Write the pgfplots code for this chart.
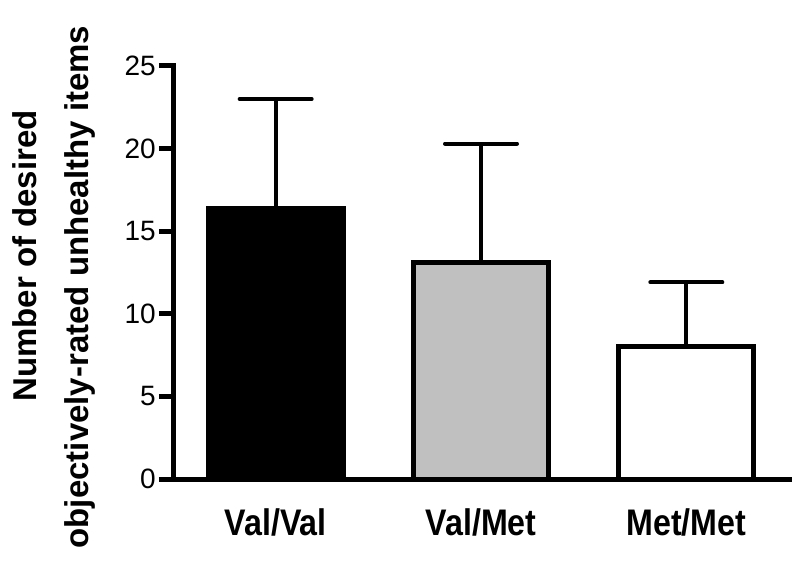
\documentclass[border=0pt]{standalone}
\usepackage{fontspec}
\setmainfont{Liberation Sans}
\newfontfamily\catfont[FakeStretch=0.87]{Liberation Sans}
\usepackage{pgfplots}
\pgfplotsset{compat=1.18}
\definecolor{midgray}{HTML}{C0C0C0}
\begin{document}
\begin{tikzpicture}
\useasboundingbox (0,0) rectangle (800pt,565pt);
\begin{axis}[
  at={(173pt,86pt)}, anchor=south west,
  scale only axis, width=616pt, height=413pt,
  xmin=-0.5, xmax=2.5, ymin=0, ymax=25,
  axis x line*=bottom, axis y line*=left,
  axis line style={line width=5pt, black, line cap=rect},
  xtick={0,1,2}, xticklabels={Val/Val,Val/Met,Met/Met},
  ytick={0,5,10,15,20,25},
  x tick style={draw=none},
  y tick style={line width=5pt, black},
  tick align=outside, major tick length=14pt,
  /pgf/number format/assume math mode=true,
  yticklabel style={font=\fontsize{28}{30}\selectfont, inner xsep=3pt},
  xticklabel style={font=\catfont\bfseries\fontsize{37}{40}\selectfont, anchor=base, yshift=-42pt},
  ybar, bar width=135pt, bar shift=0pt,
  error bars/y dir=plus, error bars/y explicit,
  error bars/error bar style={line width=4pt, black},
  error bars/error mark options={rotate=90, line width=4pt, mark size=36pt, black, line cap=round},
]
\addplot[fill=black, draw=black, line width=5pt, bar shift=0pt] coordinates {(0,16.4) +- (0,6.6)};
\addplot[fill=midgray, draw=black, line width=5pt, bar shift=0pt] coordinates {(1,13.1) +- (0,7.2)};
\addplot[fill=white, draw=black, line width=5pt, bar shift=0pt] coordinates {(2,8.0) +- (0,3.9)};
\end{axis}
\node[rotate=90, anchor=base, inner sep=0pt, font=\bfseries\fontsize{33}{36}\selectfont] at (36pt,309pt) {Number of desired};
\node[rotate=90, anchor=base, inner sep=0pt, font=\bfseries\fontsize{33}{36}\selectfont] at (88pt,278pt) {objectively-rated unhealthy items};
\end{tikzpicture}
\end{document}
